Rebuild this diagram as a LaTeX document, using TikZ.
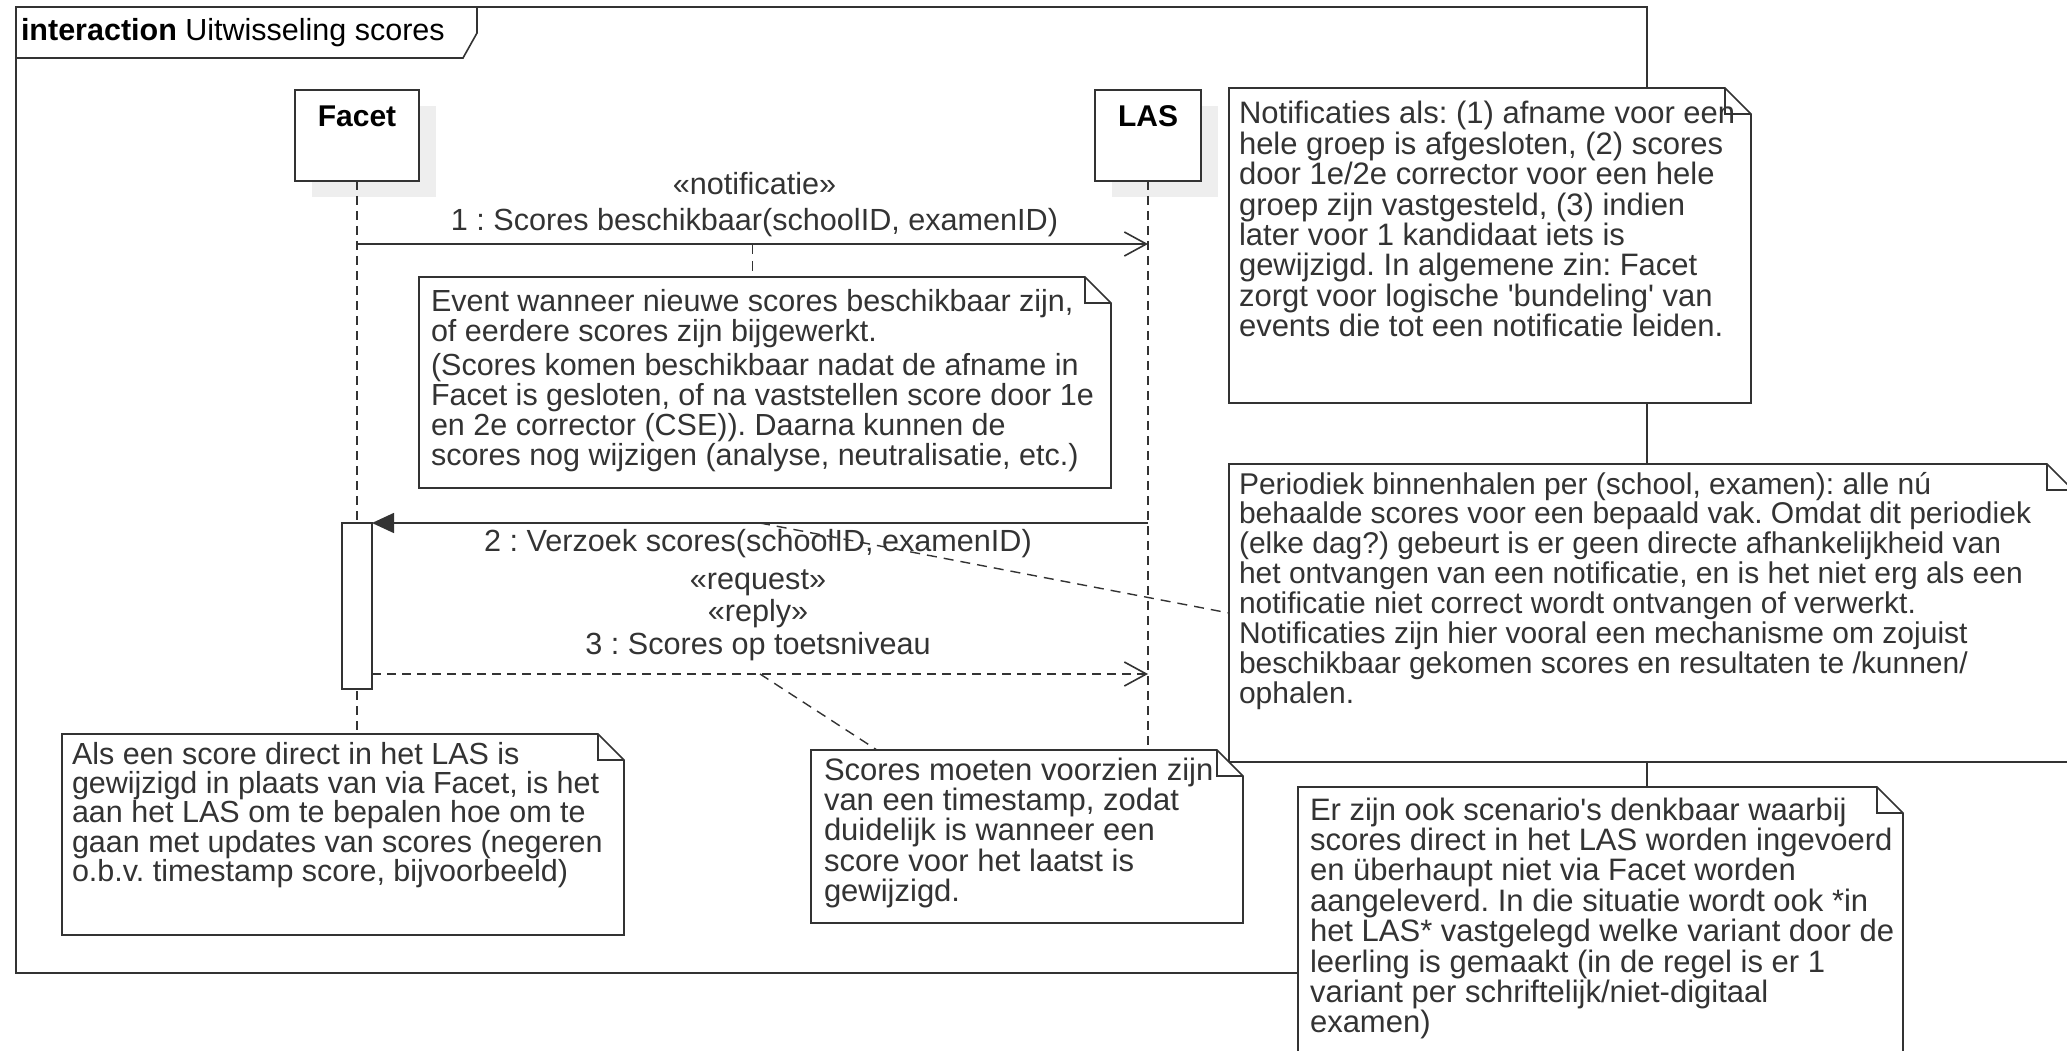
\documentclass[tikz,border=0pt]{standalone}
\usepackage{fontspec}
\setmainfont{Liberation Sans}[Ligatures=TeXOff]
\usetikzlibrary{arrows.meta,calc}
\definecolor{ln}{HTML}{333333}
\definecolor{tx}{HTML}{333333}
\definecolor{shd}{HTML}{EEEEEE}
\frenchspacing
\newcommand\mylines[1]{\vtop{\lineskiplimit=-1000pt\lineskip=0pt\let\\\cr\halign{##\hfil\cr#1\crcr}}}
\newcommand\notebox[5]{%
  \node[notebg, minimum width={(#4)-(#2)}, minimum height={(#5)-(#3)}] (#1) at (#2,#3) {};
  \filldraw[noteline] (#1.north west) -- ($(#1.north east)+(-26,0)$) -- ($(#1.north east)+(0,26)$) -- (#1.south east) -- (#1.south west) -- cycle;
  \draw[noteline, fill=none] ($(#1.north east)+(-26,0)$) -- ($(#1.north east)+(-26,26)$) -- ($(#1.north east)+(0,26)$);
}
\begin{document}
\begin{tikzpicture}[x=1pt, y=-1pt,
  every node/.style={inner sep=0pt, outer sep=0pt, text=tx, font=\fontsize{30.5}{30.1}\selectfont},
  notebg/.style={inner sep=0pt, anchor=north west, draw=none},
  noteline/.style={draw=ln, fill=white, line width=1.6pt, line join=miter},
  txt/.style={anchor=base west},
  alstxt/.style={anchor=base west, font=\fontsize{30.5}{29.4}\selectfont},
  widetxt/.style={anchor=base west, font=\fontsize{31}{30.4}\selectfont},
  plaintxt/.style={anchor=base west, font=\fontsize{30}{29.9}\selectfont},
  lbl/.style={anchor=base, font=\fontsize{30.6}{30}\selectfont},
  boldlbl/.style={anchor=base, text=black, font=\fontsize{30}{30}\selectfont\bfseries},
  lifebox/.style={draw=ln, fill=white, anchor=north west, line width=1.6pt},
  lifeline/.style={draw=ln, line width=1.3pt, dash pattern=on 9pt off 6pt},
  msgline/.style={draw=ln, line width=1.6pt, -{Straight Barb[length=22pt,width=24pt]}},
  callline/.style={draw=ln, line width=1.6pt, -{Triangle[length=22pt,width=20pt]}},
  replyline/.style={msgline, dash pattern=on 9pt off 6pt},
  anchorline/.style={draw=ln, line width=1.4pt, dash pattern=on 10pt off 7pt}
]
\useasboundingbox (0,0) rectangle (2067,1051);
\clip (0,0) rectangle (2067,1051);

% frame
\node[draw=ln, line width=1.6pt, minimum width=1631pt, minimum height=966pt, anchor=north west] (frame) at (16,7) {};
\filldraw[noteline] (16,7) -- (477,7) -- (477,33) -- (463,58) -- (16,58) -- cycle;
\node[anchor=base west, text=black] (title) at (21,41) {\textbf{interaction} Uitwisseling scores};

% shadows
\fill[shd] (312,106) rectangle (436,197);
\fill[shd] (1112,106) rectangle (1218,197);

% lifeline heads
\node[lifebox, minimum width=124pt, minimum height=91pt] (facet) at (295,90) {};
\node[lifebox, minimum width=106pt, minimum height=91pt] (las) at (1095,90) {};
\node[boldlbl] (facetlbl) at (357,127) {Facet};
\node[boldlbl] (laslbl) at (1148,127) {LAS};

% lifelines
\coordinate (facetend) at (357,734);
\coordinate (lasend) at (1148,750);
\draw[lifeline] (facet.south) -- (facetend);
\draw[lifeline] (las.south) -- (lasend);

% activation
\node[draw=ln, fill=white, line width=1.6pt, minimum width=30pt, minimum height=166pt, anchor=north] (act) at (357,523) {};

% message 1
\coordinate (r1) at (0,244);
\coordinate (r3) at (0,674);
\coordinate (m1a) at (facet.south |- r1);
\coordinate (m1b) at (las.south |- r1);
\draw[msgline] (m1a) -- (m1b);
\coordinate (m1mid) at ($(m1a)!0.5!(m1b)$);
\node[lbl] (m1st) at ($(m1mid)+(2,-49)$) {«notificatie»};
\node[lbl] (m1lb) at ($(m1mid)+(2,-14)$) {1 : Scores beschikbaar(schoolID, examenID)};

% message 2
\coordinate (m2a) at (las.south |- act.north);
\draw[callline] (m2a) -- (act.north east);
\coordinate (m2mid) at ($(m2a)!0.5!(act.north east)$);
\node[lbl] (m2lb) at ($(m2mid)+(-2,28)$) {2 : Verzoek scores(schoolID, examenID)};
\node[lbl] (m2st) at ($(m2mid)+(-2,66)$) {«request»};
\node[lbl] (m3st) at ($(m2mid)+(-2,98)$) {«reply»};
\node[lbl] (m3lb) at ($(m2mid)+(-2,131)$) {3 : Scores op toetsniveau};

% message 3
\coordinate (m3a) at (act.east |- r3);
\coordinate (m3b) at (las.south |- r3);
\draw[replyline] (m3a) -- (m3b);
\coordinate (m3mid) at ($(m3a)!0.5!(m3b)$);

% notes
\notebox{notif}{1229}{88}{1751}{403}
\node[widetxt] (notift) at (1239,124) {\mylines{Notificaties als: (1) afname voor een\\hele groep is afgesloten, (2) scores\\door 1e/2e corrector voor een hele\\groep zijn vastgesteld, (3) indien\\later voor 1 kandidaat iets is\\gewijzigd. In algemene zin: Facet\\zorgt voor logische 'bundeling' van\\events die tot een notificatie leiden.}};

\notebox{per}{1229}{464}{2073}{762}
\node[plaintxt] (pert) at (1239,494) {\mylines{Periodiek binnenhalen per (school, examen): alle nú\\behaalde scores voor een bepaald vak. Omdat dit periodiek\\(elke dag?) gebeurt is er geen directe afhankelijkheid van\\het ontvangen van een notificatie, en is het niet erg als een\\notificatie niet correct wordt ontvangen of verwerkt.\\Notificaties zijn hier vooral een mechanisme om zojuist\\beschikbaar gekomen scores en resultaten te /kunnen/\\ophalen.}};

\notebox{erz}{1298}{787}{1903}{1070}
\node[widetxt] (erzt) at (1310,820) {\mylines{Er zijn ook scenario's denkbaar waarbij\\scores direct in het LAS worden ingevoerd\\en überhaupt niet via Facet worden\\aangeleverd. In die situatie wordt ook *in\\het LAS* vastgelegd welke variant door de\\leerling is gemaakt (in de regel is er 1\\variant per schriftelijk/niet-digitaal\\examen)}};

\notebox{event}{419}{277}{1111}{488}
\node[txt] (eventt) at (431,311) {\mylines{Event wanneer nieuwe scores beschikbaar zijn,\\of eerdere scores zijn bijgewerkt.\\\noalign{\vskip4pt}(Scores komen beschikbaar nadat de afname in\\Facet is gesloten, of na vaststellen score door 1e\\en 2e corrector (CSE)). Daarna kunnen de\\scores nog wijzigen (analyse, neutralisatie, etc.)}};

\notebox{als}{62}{734}{624}{935}
\node[alstxt] (alst) at (72,764) {\mylines{Als een score direct in het LAS is\\gewijzigd in plaats van via Facet, is het\\aan het LAS om te bepalen hoe om te\\gaan met updates van scores (negeren\\o.b.v. timestamp score, bijvoorbeeld)}};

\notebox{sc}{811}{750}{1243}{923}
\node[widetxt] (sct) at (824,780) {\mylines{Scores moeten voorzien zijn\\van een timestamp, zodat\\duidelijk is wanneer een\\score voor het laatst is\\gewijzigd.}};

% note connectors
\draw[anchorline] (m1mid) -- (m1mid |- event.north);
\draw[anchorline] (m2mid) -- (per.west);
\draw[anchorline] (m3mid) -- ($(sc.north west)+(66,0)$);
\end{tikzpicture}
\end{document}
